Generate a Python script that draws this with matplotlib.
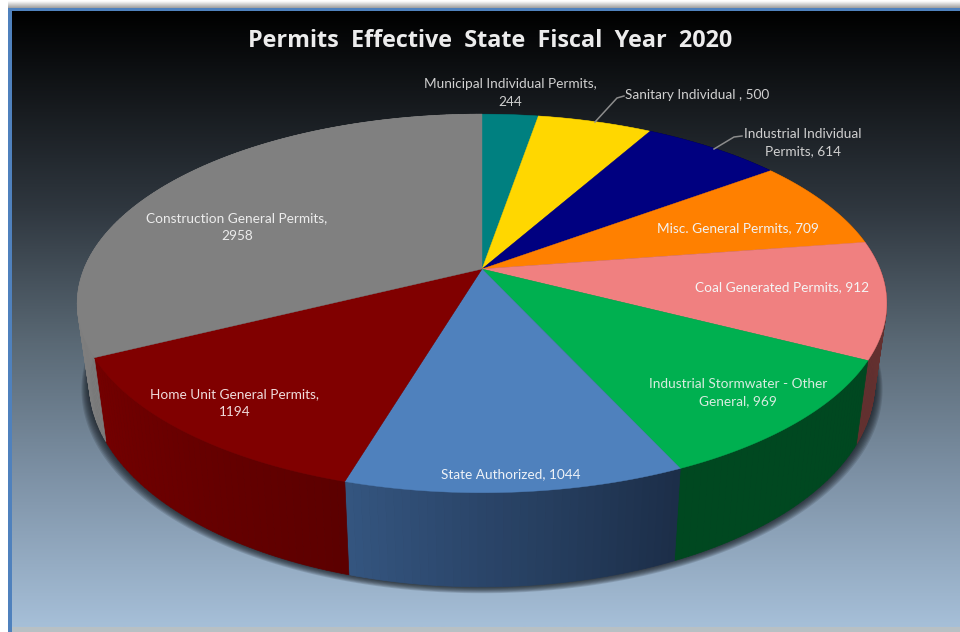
import numpy as np
import matplotlib
matplotlib.use("Agg")
import matplotlib.pyplot as plt
from matplotlib.collections import PolyCollection
from matplotlib.colors import LinearSegmentedColormap

# Permit counts, clockwise from twelve o'clock
categories = ["Municipal Individual Permits", "Sanitary Individual", "Industrial Individual Permits",
              "Misc. General Permits", "Coal Generated Permits", "Industrial Stormwater - Other General",
              "State Authorized", "Home Unit General Permits", "Construction General Permits"]
permits = [244, 500, 614, 709, 912, 969, 1044, 1194, 2958]
top_colors = ["#008080", "#FFD700", "#000080", "#FF8000", "#F08080",
              "#00B050", "#4F81BD", "#800000", "#808080"]
# Rim shading: colour at the clockwise start and end of each slice
rim_start = ["#004040", "#806c00", "#000040", "#804000", "#63302f",
             "#004820", "#1c2e49", "#5c0000", "#7c7c7c"]
rim_end = ["#004040", "#806c00", "#000040", "#804000", "#63302f",
           "#004820", "#34557f", "#740000", "#8a8a8a"]

title = "Permits  Effective  State  Fiscal  Year  2020"
labels = ["Municipal Individual Permits,\n244", "Sanitary Individual , 500",
          "Industrial Individual\nPermits, 614", "Misc. General Permits, 709",
          "Coal Generated Permits, 912", "Industrial Stormwater - Other\nGeneral, 969",
          "State Authorized, 1044", "Home Unit General Permits,\n1194",
          "Construction General Permits,\n2958"]
label_xy = [(510, 93), (697, 95), (803, 143), (738, 228), (782, 287),
            (738, 393), (511, 474), (235, 403), (237, 227)]
label_colors = ["#d0d0d0", "#d0d0d0", "#d0d0d0", "#f2f2f2", "#f5f5f5",
                "#d8ece0", "#eef2f7", "#f0dcdc", "#ececec"]

# Perspective disc geometry, in pixels
CX, CY = 482.0, 269.0
AX_X, AX_Y = 398.0, 183.0
TILT = 0.182
DEPTH = 77.0
RIM_SCALE = 0.97


def rim_top(theta):
    xu, yu = np.sin(theta), np.cos(theta)
    w = 1 + TILT * yu
    return CX + AX_X * xu / w, CY - AX_Y * yu / w


def rim_bottom(theta):
    x, y = rim_top(theta)
    w = 1 + TILT * np.cos(theta)
    return CX + (x - CX) * RIM_SCALE, y + DEPTH / w


fig = plt.figure(figsize=(9.6, 6.32), dpi=100, facecolor="white")
ax = fig.add_axes([0, 0, 1, 1])
ax.set_xlim(0, 960)
ax.set_ylim(632, 0)
ax.axis("off")

# Backdrop gradient with a soft shadow above the panel
stops = [(0.0, "#000000"), (0.32, "#2f373f"), (0.54, "#5a6975"), (0.75, "#7c90a4"), (1.0, "#a6bfd8")]
backdrop = LinearSegmentedColormap.from_list("backdrop", stops)
ax.imshow(np.linspace(0, 1, 256)[:, None], cmap=backdrop, aspect="auto", extent=(12, 960, 627, 11), zorder=0)
ax.imshow(np.linspace(1, 0.62, 64)[:, None], cmap="gray", vmin=0, vmax=1, aspect="auto",
          extent=(8, 960, 8, 1), zorder=0)
ax.fill_between([8, 960], 627, 632, color="#b8c0c4", lw=0, zorder=0)
ax.fill_between([8, 12], 8, 632, color="#4f81bd", lw=0, zorder=1)
ax.fill_between([8, 960], 8, 11, color="#4f81bd", lw=0, zorder=1)
ax.set_xlim(0, 960)
ax.set_ylim(632, 0)

# Soft drop shadow below the rim
full_turn = np.linspace(0, 2 * np.pi, 361)
bx, by = rim_bottom(full_turn)
for grow in np.arange(8, 0, -1.0):
    ax.fill(CX + (bx - CX) * (1 + grow / 395), by + grow * 0.8, color="#14191f", alpha=0.15, lw=0, zorder=2)

# Slice boundaries from the counts
fractions = np.array(permits, dtype=float) / np.sum(permits)
edges = np.concatenate([[0], np.cumsum(fractions)]) * 2 * np.pi

# Rim walls first, then the top faces over them
for a0, a1, c0, c1 in zip(edges[:-1], edges[1:], rim_start, rim_end):
    n = max(int(np.degrees(a1 - a0)), 2)
    th = np.linspace(a0, a1, n + 1)
    xt, yt = rim_top(th)
    xb, yb = rim_bottom(th)
    quads = [[(xt[i], yt[i]), (xt[i + 1], yt[i + 1]), (xb[i + 1], yb[i + 1]), (xb[i], yb[i])] for i in range(n)]
    ramp = LinearSegmentedColormap.from_list("rim", [c0, c1])
    face = ramp(np.linspace(0, 1, n))
    ax.add_collection(PolyCollection(quads, facecolors=face, edgecolors=face, linewidths=0.5, zorder=3))

for a0, a1, c in zip(edges[:-1], edges[1:], top_colors):
    th = np.linspace(a0, a1, max(int(np.degrees(a1 - a0)) * 2, 4))
    xt, yt = rim_top(th)
    ax.fill(np.r_[CX, xt], np.r_[CY, yt], color=c, lw=0.3, zorder=4)

# Leader lines for the two labels that sit outside the disc
ax.plot([595, 617, 624], [122, 98, 96], color="#8c8c8c", lw=1.1, zorder=5)
ax.plot([714, 734, 742], [149, 137, 136], color="#8c8c8c", lw=1.1, zorder=5)

for text, (lx, ly), col in zip(labels, label_xy, label_colors):
    ax.text(lx, ly, text, family="Lato", fontsize=9.8, color=col, ha="center", va="center",
            linespacing=1.5, zorder=6)

ax.text(490, 41, title, family="Open Sans", fontweight="bold", fontsize=16.8, color="#ececec",
        ha="center", va="center", zorder=6)

fig.savefig("out.png", dpi=100)
